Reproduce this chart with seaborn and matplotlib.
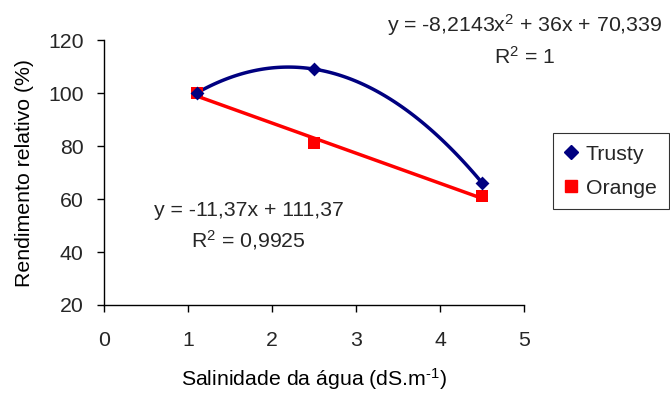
import matplotlib
matplotlib.use("Agg")
import matplotlib.pyplot as plt
import seaborn as sns
import pandas as pd
import numpy as np
from matplotlib.lines import Line2D

salinity = [1.1, 2.5, 4.5]
trusty = [100, 109, 66]
orange = [100, 81, 61]
xticks = [0, 1, 2, 3, 4, 5]
yticks = [20, 40, 60, 80, 100, 120]

sns.set_theme(style="white")
plt.rcParams['font.family'] = ['Liberation Sans', 'DejaVu Sans']
plt.rcParams['mathtext.fontset'] = 'custom'
plt.rcParams['mathtext.rm'] = 'Liberation Sans'
plt.rcParams['mathtext.it'] = 'Liberation Sans'
plt.rcParams['axes.unicode_minus'] = False

df = pd.DataFrame({"x": salinity, "Trusty": trusty, "Orange": orange})

fig = plt.figure(figsize=(6.7, 3.94), dpi=100)
ax = fig.add_axes([104.3/670, 1-305/394, (524.3-104.3)/670, (305-40)/394])

navy = "#000080"
red = "#FF0000"
fs = 15.3

sns.regplot(data=df, x="x", y="Orange", order=1, ci=None, scatter=False,
            truncate=True, ax=ax, line_kws=dict(color=red, lw=2.5))
sns.regplot(data=df, x="x", y="Trusty", order=2, ci=None, scatter=False,
            truncate=True, ax=ax, line_kws=dict(color=navy, lw=2.5))
sns.scatterplot(data=df, x="x", y="Orange", marker="s", s=75, color=red,
                edgecolor=red, linewidth=0, ax=ax, zorder=3)
sns.scatterplot(data=df, x="x", y="Trusty", marker="D", s=50, color=navy,
                edgecolor=navy, linewidth=0, ax=ax, zorder=4)

ax.set_xlim(0, 5)
ax.set_ylim(20, 120)
ax.set_xticks(xticks)
ax.set_yticks(yticks)
ax.tick_params(axis="both", labelsize=fs, direction="out", length=5,
               width=1, color="black", bottom=True, left=True)
ax.tick_params(axis="x", pad=14)
ax.tick_params(axis="y", pad=10)
for s in ["top", "right"]:
    ax.spines[s].set_visible(False)
for s in ["left", "bottom"]:
    ax.spines[s].set_color("black")
    ax.spines[s].set_linewidth(1)

ax.set_xlabel(r"Salinidade da água (dS.m$^{\text{-1}}$)", fontsize=fs, color="black", labelpad=11)
ax.set_ylabel("Rendimento relativo (%)", fontsize=fs, color="black", labelpad=10)

ax.text(5.0, 125.7, "y = -8,2143x$^2$ + 36x + 70,339", ha="center", va="center",
        fontsize=fs, clip_on=False)
ax.text(5.0, 113.6, "R$^2$ = 1", ha="center", va="center", fontsize=fs, clip_on=False)
ax.text(1.72, 55.8, "y = -11,37x + 111,37", ha="center", va="center", fontsize=fs)
ax.text(1.72, 44.5, "R$^2$ = 0,9925", ha="center", va="center", fontsize=fs)

handles = [Line2D([], [], marker="D", color=navy, ls="none", markersize=7),
           Line2D([], [], marker="s", color=red, ls="none", markersize=9)]
leg = fig.legend(handles, ["Trusty", "Orange"], loc="upper left",
                 bbox_to_anchor=(553/670, 1-133/394), fontsize=fs,
                 frameon=True, fancybox=False, handlelength=0.6,
                 handletextpad=0.4, borderpad=0.55, labelspacing=0.7,
                 borderaxespad=0)
leg.get_frame().set_edgecolor("black")
leg.get_frame().set_linewidth(0.8)

fig.savefig("out.png", dpi=100)
